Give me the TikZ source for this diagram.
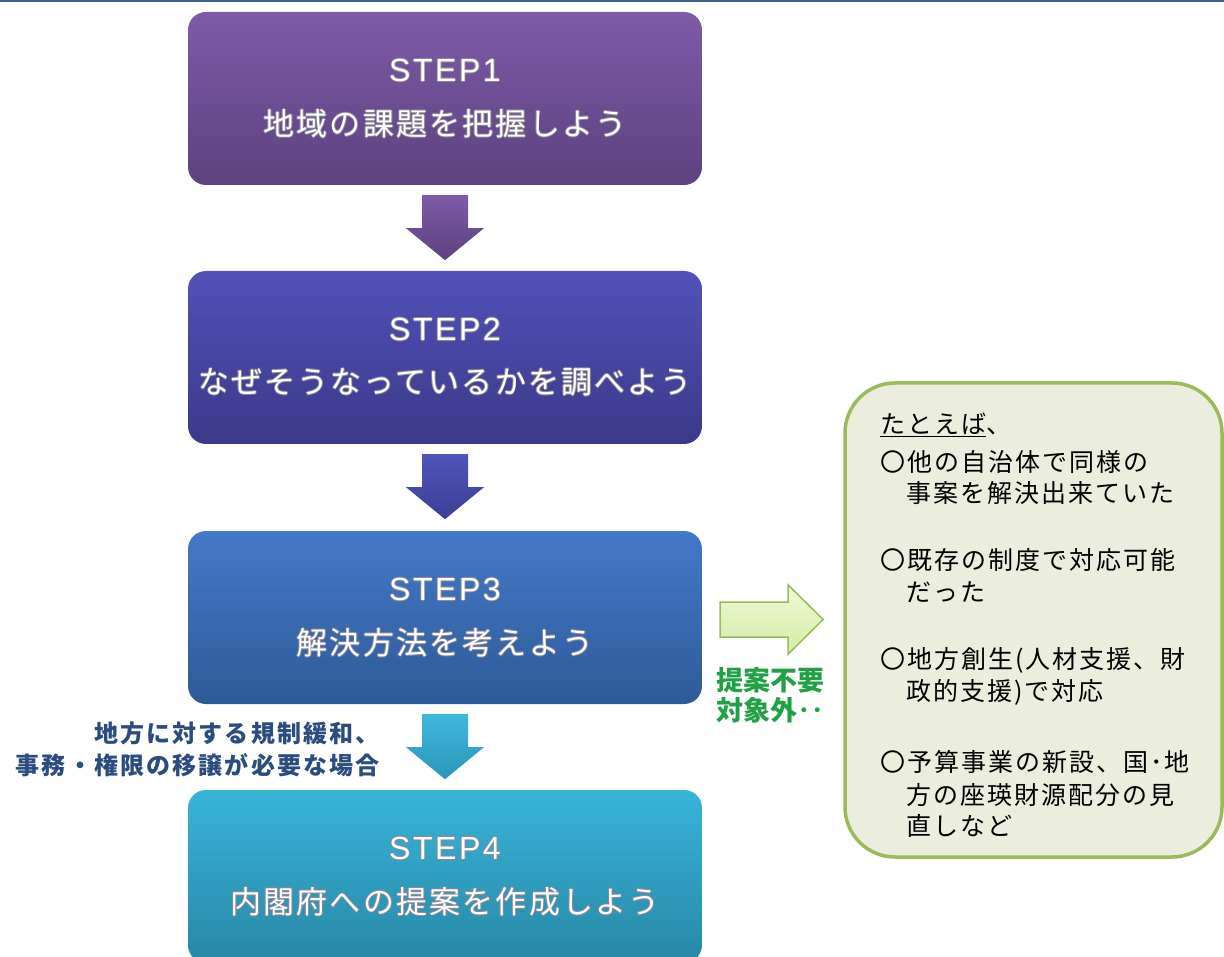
\documentclass[tikz,border=0pt]{standalone}
\usepackage{fontspec}
\usetikzlibrary{calc}
\setmainfont{Noto Sans CJK JP}
\newfontfamily\stepfont[LetterSpace=8]{Liberation Sans}
\newfontfamily\jpstep[LetterSpace=7]{Noto Sans CJK JP}
\newfontfamily\jpnote[LetterSpace=8]{Noto Sans CJK JP}
\newfontfamily\jplabel[LetterSpace=9]{Noto Sans CJK JP}
\newfontfamily\jpgreen{Noto Sans CJK JP}
\definecolor{topln}{HTML}{3E5E8C}
\definecolor{sAt}{HTML}{7E5AA8}\definecolor{sAb}{HTML}{5E417F}
\definecolor{sBt}{HTML}{5151B9}\definecolor{sBb}{HTML}{3B398A}
\definecolor{sCt}{HTML}{4479C9}\definecolor{sCb}{HTML}{2E5A98}
\definecolor{sDt}{HTML}{38B4D9}\definecolor{sDb}{HTML}{2887A6}
\definecolor{aBt}{HTML}{4F55BB}\definecolor{aBb}{HTML}{3C3F94}
\definecolor{aCt}{HTML}{3DB8DC}\definecolor{aCb}{HTML}{2C96B8}
\definecolor{grnedge}{HTML}{9BBB59}
\definecolor{grnt}{HTML}{EEF8D8}\definecolor{grnb}{HTML}{D3EDA4}
\definecolor{notefill}{HTML}{EBEEDD}
\definecolor{grntext}{HTML}{22A046}
\definecolor{bluetext}{HTML}{2B4C7E}
\definecolor{halo}{HTML}{8E8A96}
\newcommand\halotext[1]{\leavevmode
  \rlap{\kern-0.9pt\textcolor{halo}{#1}}%
  \rlap{\kern0.9pt\textcolor{halo}{#1}}%
  \rlap{\raisebox{0.9pt}{\textcolor{halo}{#1}}}%
  \rlap{\raisebox{-0.9pt}{\textcolor{halo}{#1}}}%
  #1}
\tikzset{
  stepbox/.style={rounded corners=18pt, minimum width=514pt, minimum height=173pt, inner sep=0pt, draw=none},
  steptitle/.style={text=white, font=\stepfont\fontsize{32}{36}\selectfont, inner sep=0pt},
  stepjp/.style={text=white, font=\jpstep\fontsize{31}{36}\selectfont, inner sep=0pt},
  notebox/.style={rounded corners=50pt, minimum width=377pt, minimum height=474pt, inner sep=0pt, draw=grnedge, line width=3.5pt, fill=notefill},
  notetext/.style={anchor=west, inner sep=0pt, text=black, font=\jpnote\fontsize{25}{30}\selectfont},
  bluelabel/.style={anchor=east, inner sep=0pt, text=bluetext, font=\jplabel\bfseries\fontsize{24}{28}\selectfont},
  greenlabel/.style={anchor=west, inner sep=0pt, text=grntext, font=\jpgreen\bfseries\fontsize{27}{30}\selectfont},
  pics/downarr/.style 2 args={code={
    \shade[top color=#1, bottom color=#2] (-23,0) -- (23,0) -- (23,33) -- (39,33) -- (0,65) -- (-39,33) -- (-23,33) -- cycle;}},
  pics/rightarr/.style={code={
    \shade[top color=grnt, bottom color=grnb, draw=grnedge, line width=1.5pt, line join=miter]
      (0,-17.5) -- (68,-17.5) -- (68,-34.5) -- (103,0) -- (68,34.5) -- (68,17.5) -- (0,17.5) -- cycle;}}
}
\begin{document}
\begin{tikzpicture}[x=1pt,y=-1pt]
\useasboundingbox (0,0) rectangle (1224,957);
\clip (0,0) rectangle (1224,957);
\draw[topln, line width=2.5pt] (0,1.2) -- (1224,1.2);

% step boxes
\node[stepbox, top color=sAt, bottom color=sAb] (s1) at (445,98.5) {};
\node[stepbox, top color=sBt, bottom color=sBb] (s2) at (445,357.5) {};
\node[stepbox, top color=sCt, bottom color=sCb] (s3) at (445,617.5) {};
\node[stepbox, top color=sDt, bottom color=sDb] (s4) at (445,876.5) {};

\node[steptitle] (s1a) at ($(s1.center)+(0,-28)$) {\halotext{STEP1}};
\node[stepjp] (s1b) at ($(s1.center)+(0,25)$) {\halotext{地域の課題を把握しよう}};
\node[steptitle] (s2a) at ($(s2.center)+(0,-28)$) {\halotext{STEP2}};
\node[stepjp] (s2b) at ($(s2.center)+(0,25)$) {\halotext{なぜそうなっているかを調べよう}};
\node[steptitle] (s3a) at ($(s3.center)+(0,-28)$) {\halotext{STEP3}};
\node[stepjp] (s3b) at ($(s3.center)+(0,25)$) {\halotext{解決方法を考えよう}};
\node[steptitle] (s4a) at ($(s4.center)+(0,-28)$) {\halotext{STEP4}};
\node[stepjp] (s4b) at ($(s4.center)+(0,25)$) {\halotext{内閣府への提案を作成しよう}};

% down arrows
\pic (a1) at ($(s1.south)+(0,10)$) {downarr={sAt}{sAb}};
\pic (a2) at ($(s2.south)+(0,10)$) {downarr={aBt}{aBb}};
\pic (a3) at ($(s3.south)+(0,10)$) {downarr={aCt}{aCb}};

% note box
\node[notebox] (nb) at (1033.5,620) {};
\pic (ar) at ($(s3.east)+(18,2)$) {rightarr};

\node[greenlabel] (g1) at (716,680) {提案不要};
\node[greenlabel] (g2) at (716,710) {対象外‥};

\node[bluelabel] (b1) at (380,733) {地方に対する規制緩和、};
\node[bluelabel] (b2) at (380,765) {事務・権限の移譲が必要な場合};

\node[notetext] (n0) at (880,425) {\underline{たとえば}、};
\node[notetext] (n1) at (880,462) {〇他の自治体で同様の};
\node[notetext] (n2) at (906,493) {事案を解決出来ていた};
\node[notetext] (n3) at (880,560) {〇既存の制度で対応可能};
\node[notetext] (n4) at (906,592) {だった};
\node[notetext] (n5) at (880,660) {〇地方創生(人材支援、財};
\node[notetext] (n6) at (906,692) {政的支援)で対応};
\node[notetext] (n7) at (880,762) {〇予算事業の新設、国･地};
\node[notetext] (n8) at (906,795) {方の座瑛財源配分の見};
\node[notetext] (n9) at (906,826) {直しなど};
\end{tikzpicture}
\end{document}
